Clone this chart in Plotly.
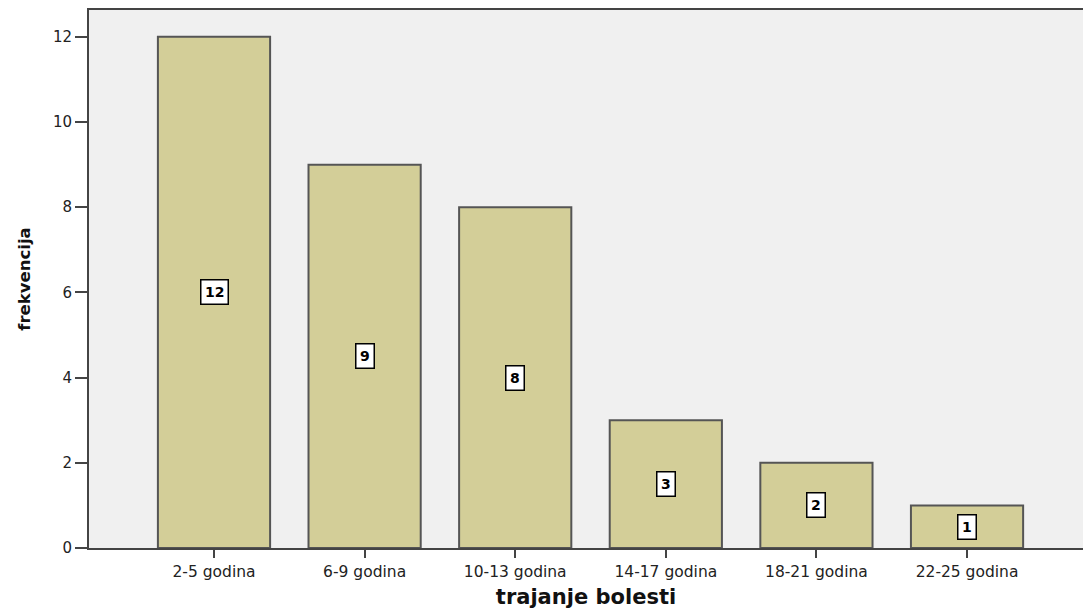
import plotly.graph_objects as go

categories = ["2-5 godina", "6-9 godina", "10-13 godina", "14-17 godina", "18-21 godina", "22-25 godina"]
values = [12, 9, 8, 3, 2, 1]
y_ticks = [0, 2, 4, 6, 8, 10, 12]

fig = go.Figure()
fig.add_trace(go.Bar(
    x=categories, y=values, width=0.745,
    marker=dict(color="#D3CE98", line=dict(color="#555555", width=2)),
    hoverinfo="x+y",
))

for c, v in zip(categories, values):
    fig.add_annotation(
        x=c, y=v / 2, text=f"<b>{v}</b>", showarrow=False,
        font=dict(family="DejaVu Sans", size=14, color="#000000"),
        bgcolor="#FFFFFF", bordercolor="#000000", borderwidth=1.5, borderpad=3.5,
    )

fig.update_layout(
    width=1083, height=610,
    margin=dict(l=89, r=0, t=10, b=62),
    paper_bgcolor="#FFFFFF", plot_bgcolor="#F0F0F0",
    showlegend=False,
    font=dict(family="DejaVu Sans", color="#222222"),
)
fig.update_xaxes(
    type="category", range=[-0.83, 5.77],
    showline=True, linecolor="#444444", linewidth=2, mirror=True,
    ticks="outside", ticklen=8, tickwidth=2, tickcolor="#444444",
    tickfont=dict(family="DejaVu Sans", size=15.5, color="#222222"),
    showgrid=False, zeroline=False,
    title=dict(text="<b>trajanje bolesti</b>", font=dict(family="DejaVu Sans", size=21, color="#111111"), standoff=10),
)
fig.update_yaxes(
    range=[0, 12.63], tickvals=y_ticks,
    showline=True, linecolor="#444444", linewidth=2,
    ticks="outside", ticklen=12, tickwidth=2, tickcolor="#444444",
    tickfont=dict(family="DejaVu Sans", size=15, color="#222222"),
    showgrid=False, zeroline=False,
    title=dict(text="<b>frekvencija</b>", font=dict(family="DejaVu Sans", size=16.5, color="#111111"), standoff=18),
)

fig.write_html("out.html", config={"displayModeBar": False},
               post_script="document.body.style.margin='0';")
